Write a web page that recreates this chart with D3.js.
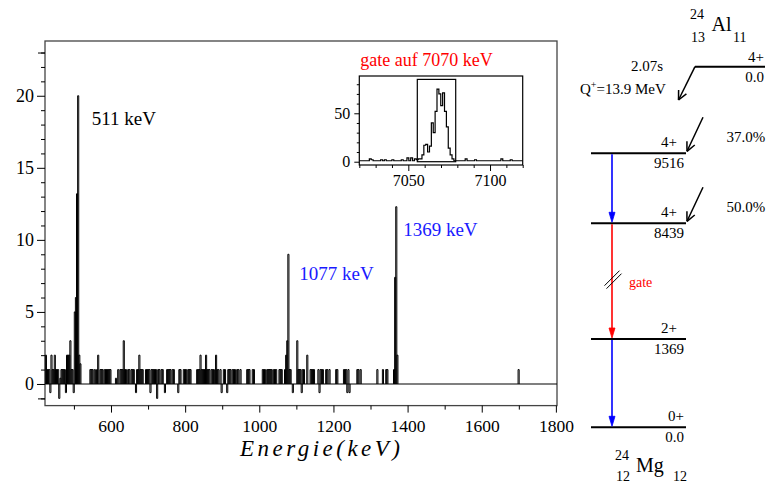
<!DOCTYPE html>
<html>
<head>
<meta charset="utf-8">
<script src="https://cdn.jsdelivr.net/npm/d3@7"></script>
<style>
  body { margin: 0; background: #fff; }
  svg { display: block; font-family: "Liberation Serif", "Times New Roman", serif; }
</style>
</head>
<body>
<svg id="chart" width="768" height="483"></svg>
<script>
// ---------------------------------------------------------------
// Gamma spectrum gated on the 7070 keV transition (24Al -> 24Mg)
// ---------------------------------------------------------------

// main spectrum: [bin start energy (keV), counts], bins of 3 keV
const spectrumBinWidth = 3;
const spectrum = [
  [423,2],[426,1],[429,1],[432,1],[435,-0.6],[438,2],[441,1],[444,1],[447,2],[450,1],
  [453,1],[456,1],[459,-1],[462,0.4],[465,1],[468,1],[471,1],[474,1],[477,-0.6],[480,2],
  [483,2],[486,2],[489,3],[492,1],[495,1],[498,-0.6],[501,5],[504,6],[507,13.2],[510,20],
  [513,2],[516,1.4],
  [543,1],[546,1],[549,1],[555,1],[561,1],[564,2],[570,1],[573,1],[576,1],[582,1],
  [585,1],[588,1],[591,1],[594,1],[597,1],[612,0.4],[618,1],[624,1],[627,1],[630,1],
  [633,3],[636,1],[639,1],[645,1],[648,1],[654,1],[657,1],[660,1],[666,-0.6],[669,1],
  [672,1],[675,2],[678,1],[681,1],[684,1],[693,1],[696,1],[699,1],[702,1],[705,-0.6],
  [708,1],[711,1],[714,1],[717,1],[720,1],[723,-1],[726,1],[729,1],[735,1],[738,1],
  [744,-0.6],[750,1],[753,1],[756,1],[759,1],[765,1],[768,1],[780,-0.6],[783,1],[786,1],
  [795,1],[798,1],[801,1],[807,1],[810,1],[813,1],[831,1],[834,1],[837,1],[840,2],
  [843,1],[846,1],[849,1],[852,1],[855,2],[858,1],[861,1],[864,1],[870,1],[873,1],
  [876,1],[882,2],[885,1],[888,1],[894,1],[897,-0.6],[903,1],[906,1],[912,-0.6],[915,1],
  [918,1],[921,1],[927,1],[930,1],[933,1],[939,1],[942,1],[948,1],[966,1],[969,1],
  [972,1],[981,1],[984,1],[1008,1],[1011,1],[1014,1],[1020,1],[1023,1],[1026,1],[1029,1],
  [1032,1],[1038,1],[1041,1],[1044,1],[1053,1],[1056,1],[1059,1],[1068,1],[1071,2],[1074,3],
  [1077,9],[1080,1],[1083,1],[1089,-0.6],[1101,3],[1104,1],[1107,1],[1110,1],[1113,-0.6],[1116,1],
  [1119,1],[1128,2],[1137,1],[1140,1],[1143,1],[1146,1],[1158,1],[1161,-0.6],[1164,1],[1167,1],
  [1170,1],[1179,1],[1182,1],[1188,1],[1206,1],[1209,1],[1227,1],[1230,1],[1233,1],[1236,-0.6],
  [1239,1],[1242,-0.6],[1263,1],[1266,1],[1272,1],[1317,1],[1332,1],[1341,1],[1344,1],[1362,1],
  [1365,7.4],[1368,12.3],[1371,2],[1698,1]
];

const xMajorTicks = [600, 800, 1000, 1200, 1400, 1600, 1800];
const xMinorTicks = [500, 700, 900, 1100, 1300, 1500, 1700];
const yMajorTicks = [0, 5, 10, 15, 20];
const yMidTicks = [-1, 23];

// peak annotations
const peakEnergy = [511, 1077, 1369];
const peakText = ["511 keV", "1077 keV", "1369 keV"];
const peakColor = ["#000000", "#1a1aff", "#1a1aff"];

// gate spectrum (inset): counts per bin
const gateStart = 7019.25;
const gateBinWidth = 1.15;
const gateCounts = [
  1,1,1,1,1,1,3,2,1,1,1,1,2,1,2,1,1,1,2,1,1,1,1,2,1,1,4,1,4,1,3,2,
  3,3,7,17,18,10,16,40,30,52,75,70,58,71,52,36,14,7,3,
  1,1,1,1,1,1,3,1,1,1,1,2,1,1,1,1,1,1,1,1,1,1,1,1,1,3,1,1,1,1,2,1,1,1,1,1,1
];
const gateWindow = [7055.5, 7079];
const gateWindowHeight = 85;
const insetXTicks = [7050, 7100];
const insetYTicks = [0, 50];

// level scheme of 24Mg populated in the beta decay of 24Al
const levelEnergy = [9516, 8439, 1369, 0];
const levelText = ["9516", "8439", "1369", "0.0"];
const levelSpin = ["4+", "4+", "2+", "0+"];
const gammaFrom = [9516, 8439, 1369];
const gammaTo = [8439, 1369, 0];
const gammaColor = ["#0000ff", "#ff0000", "#0000ff"];
const feedLevel = [9516, 8439];
const feedBranch = ["37.0%", "50.0%"];

// ---------------------------------------------------------------
const svg = d3.select("#chart");

// ---------------- main spectrum ----------------
const frame = { left: 45, right: 557, top: 41, bottom: 405.6 };
const x = d3.scaleLinear().domain([422, 1803]).range([frame.left, frame.right]);
const y = d3.scaleLinear().domain([-1.5, 23.8]).range([frame.bottom, frame.top]);

svg.append("rect")
  .attr("x", frame.left).attr("y", frame.top)
  .attr("width", frame.right - frame.left).attr("height", frame.bottom - frame.top)
  .attr("fill", "none").attr("stroke", "#444").attr("stroke-width", 1.3);

// zero line
svg.append("line")
  .attr("x1", x(422)).attr("x2", x(1803))
  .attr("y1", y(0)).attr("y2", y(0))
  .attr("stroke", "#000").attr("stroke-width", 1.2);

// histogram bins
svg.append("g").selectAll("path").data(spectrum).join("path")
  .attr("d", d => {
    const x0 = x(d[0]), x1 = x(d[0] + spectrumBinWidth), y0 = y(0), yv = y(d[1]);
    return `M${x0},${y0}V${yv}H${x1}V${y0}`;
  })
  .attr("fill", "none").attr("stroke", "#000").attr("stroke-width", 1);

// axes
function styleAxis(g) {
  g.select(".domain").remove();
  g.selectAll("line").attr("stroke", "#000").attr("stroke-width", 1);
  g.selectAll("text").attr("fill", "#000")
    .style("font-family", "'Liberation Serif', 'Times New Roman', serif");
}
svg.append("g").attr("transform", `translate(0,${frame.bottom})`)
  .call(d3.axisBottom(x).tickValues(xMajorTicks).tickSize(7).tickPadding(7).tickFormat(d3.format("d")))
  .call(styleAxis).call(g => g.selectAll("text").attr("font-size", 17.5));
svg.append("g").attr("transform", `translate(0,${frame.bottom})`)
  .call(d3.axisBottom(x).tickValues(xMinorTicks).tickSize(4).tickFormat(""))
  .call(styleAxis);

svg.append("g").attr("transform", `translate(${frame.left},0)`)
  .call(d3.axisLeft(y).tickValues(yMajorTicks).tickSize(8).tickPadding(3).tickFormat(d3.format("d")))
  .call(styleAxis).call(g => g.selectAll("text").attr("font-size", 18));
svg.append("g").attr("transform", `translate(${frame.left},0)`)
  .call(d3.axisLeft(y).tickValues(d3.range(-1, 24).filter(v => v % 5 !== 0)).tickSize(4).tickFormat(""))
  .call(styleAxis);
svg.append("g").attr("transform", `translate(${frame.left},0)`)
  .call(d3.axisLeft(y).tickValues(yMidTicks).tickSize(7).tickFormat(""))
  .call(styleAxis);

// axis title
svg.append("text")
  .attr("x", 240).attr("y", 456)
  .attr("font-size", 23).attr("font-style", "italic")
  .attr("textLength", 160).attr("lengthAdjust", "spacing")
  .text("Energie(keV)");

// peak labels (offsets in keV / counts from the peak position)
const peakLabelOffset = [[37, 18], [31, 7.2], [19, 10.3]];
svg.append("g").selectAll("text").data(peakEnergy).join("text")
  .attr("x", (d, i) => x(d + peakLabelOffset[i][0]))
  .attr("y", (d, i) => y(peakLabelOffset[i][1]))
  .attr("font-size", 19)
  .attr("fill", (d, i) => peakColor[i])
  .text((d, i) => peakText[i]);

// ---------------- inset: gate spectrum ----------------
const inset = { left: 359.3, right: 522.7, top: 76, bottom: 165 };
const xi = d3.scaleLinear().domain([7020, 7120]).range([inset.left, inset.right]);
const yi = d3.scaleLinear().domain([-3.4, 88.5]).range([inset.bottom, inset.top]);

svg.append("defs").append("clipPath").attr("id", "insetClip")
  .append("rect")
  .attr("x", inset.left).attr("y", inset.top)
  .attr("width", inset.right - inset.left).attr("height", inset.bottom - inset.top);

svg.append("rect")
  .attr("x", inset.left).attr("y", inset.top)
  .attr("width", inset.right - inset.left).attr("height", inset.bottom - inset.top)
  .attr("fill", "none").attr("stroke", "#000").attr("stroke-width", 1.2);

const gatePoints = gateCounts.map((c, i) => [gateStart + i * gateBinWidth, c]);
gatePoints.push([gateStart + gateCounts.length * gateBinWidth, gateCounts[gateCounts.length - 1]]);
svg.append("path")
  .attr("clip-path", "url(#insetClip)")
  .attr("d", d3.line().x(d => xi(d[0])).y(d => yi(d[1])).curve(d3.curveStepAfter)(gatePoints))
  .attr("fill", "none").attr("stroke", "#000").attr("stroke-width", 1.2);

// gate window
svg.append("rect")
  .attr("x", xi(gateWindow[0])).attr("y", yi(gateWindowHeight))
  .attr("width", xi(gateWindow[1]) - xi(gateWindow[0]))
  .attr("height", yi(0) - yi(gateWindowHeight))
  .attr("fill", "none").attr("stroke", "#000").attr("stroke-width", 1.2);

svg.append("g").attr("transform", `translate(0,${inset.bottom})`)
  .call(d3.axisBottom(xi).tickValues(insetXTicks).tickSize(6).tickPadding(4).tickFormat(d3.format("d")))
  .call(styleAxis).call(g => g.selectAll("text").attr("font-size", 16));
svg.append("g").attr("transform", `translate(0,${inset.bottom})`)
  .call(d3.axisBottom(xi).tickValues([7020, 7030, 7040, 7060, 7070, 7080, 7090, 7110, 7120]).tickSize(3).tickFormat(""))
  .call(styleAxis);
svg.append("g").attr("transform", `translate(${inset.left},0)`)
  .call(d3.axisLeft(yi).tickValues(insetYTicks).tickSize(5).tickPadding(4).tickFormat(d3.format("d")))
  .call(styleAxis).call(g => g.selectAll("text").attr("font-size", 16));
svg.append("g").attr("transform", `translate(${inset.left},0)`)
  .call(d3.axisLeft(yi).tickValues([10, 20, 30, 40, 60, 70, 80]).tickSize(2.5).tickFormat(""))
  .call(styleAxis);

svg.append("text")
  .attr("x", inset.left + 1).attr("y", 66)
  .attr("font-size", 18).attr("fill", "#ff0000")
  .text("gate auf 7070 keV");

// ---------------- level scheme ----------------
const yl = d3.scaleLinear().domain([0, 1369, 8439, 9516]).range([427.3, 339, 223.3, 153.3]);
const lvl = { x1: 591, x2: 686, gammaX: 612 };
const scheme = svg.append("g");

function openHead(g, tip, from) {
  const dx = from[0] - tip[0], dy = from[1] - tip[1];
  const len = Math.hypot(dx, dy), ux = dx / len, uy = dy / len;
  const a = Math.PI / 7, L = 10;
  [a, -a].forEach(t => {
    const rx = ux * Math.cos(t) - uy * Math.sin(t);
    const ry = ux * Math.sin(t) + uy * Math.cos(t);
    g.append("line")
      .attr("x1", tip[0]).attr("y1", tip[1])
      .attr("x2", tip[0] + rx * L).attr("y2", tip[1] + ry * L)
      .attr("stroke", "#000").attr("stroke-width", 1.5);
  });
}
function betaArrow(from, tip) {
  scheme.append("line")
    .attr("x1", from[0]).attr("y1", from[1]).attr("x2", tip[0]).attr("y2", tip[1])
    .attr("stroke", "#000").attr("stroke-width", 1.5);
  openHead(scheme, tip, from);
}

// parent nucleus 24Al
scheme.append("line").attr("x1", 695).attr("x2", 765).attr("y1", 66.7).attr("y2", 66.7)
  .attr("stroke", "#000").attr("stroke-width", 2);
scheme.append("text").attr("x", 764).attr("y", 61.5).attr("text-anchor", "end").attr("font-size", 15).text("4+");
scheme.append("text").attr("x", 764).attr("y", 82).attr("text-anchor", "end").attr("font-size", 15).text("0.0");
betaArrow([695, 66.7], [678.5, 100]);
scheme.append("text").attr("x", 647).attr("y", 71).attr("text-anchor", "middle").attr("font-size", 15).text("2.07s");
const qText = scheme.append("text").attr("x", 580).attr("y", 93.5).attr("font-size", 15);
qText.append("tspan").text("Q");
qText.append("tspan").attr("font-size", 10).attr("dy", -6).text("+");
qText.append("tspan").attr("dy", 6).text("=13.9 MeV");

const al = scheme.append("g");
al.append("text").attr("x", 690).attr("y", 19).attr("font-size", 14).text("24");
al.append("text").attr("x", 711.5).attr("y", 31).attr("font-size", 20).text("Al");
al.append("text").attr("x", 691).attr("y", 41.5).attr("font-size", 14).text("13");
al.append("text").attr("x", 733).attr("y", 42).attr("font-size", 14).text("11");

// levels
levelEnergy.forEach((e, i) => {
  const yy = yl(e);
  scheme.append("line").attr("x1", lvl.x1).attr("x2", lvl.x2).attr("y1", yy).attr("y2", yy)
    .attr("stroke", "#000").attr("stroke-width", 2);
  scheme.append("text").attr("x", e === 0 ? lvl.x2 - 2 : lvl.x2 - 9).attr("y", yy - 6)
    .attr("text-anchor", "end").attr("font-size", 15).text(levelSpin[i]);
  scheme.append("text").attr("x", lvl.x2 - 2).attr("y", yy + 15)
    .attr("text-anchor", "end").attr("font-size", 15).text(levelText[i]);
});

// beta feeding
feedLevel.forEach((e, i) => {
  const yy = yl(e);
  betaArrow([lvl.x2 + 17, yy - 36], [lvl.x2 + 1, yy - 2]);
  scheme.append("text").attr("x", 726.5).attr("y", yy - 11).attr("font-size", 15).text(feedBranch[i]);
});

// gamma transitions
gammaFrom.forEach((e, i) => {
  const y0 = yl(e) + 1, y1 = yl(gammaTo[i]) - 1;
  const c = gammaColor[i];
  scheme.append("line").attr("x1", lvl.gammaX).attr("x2", lvl.gammaX)
    .attr("y1", y0).attr("y2", y1 - 8)
    .attr("stroke", c).attr("stroke-width", 1.6);
  scheme.append("path")
    .attr("d", `M${lvl.gammaX - 3},${y1 - 10}L${lvl.gammaX + 3},${y1 - 10}L${lvl.gammaX},${y1}Z`)
    .attr("fill", c).attr("stroke", c).attr("stroke-width", 0.8);
});

// break mark on the gate transition
const midY = (yl(8439) + yl(1369)) / 2 - 3;
[[-7.5, 7.5, 7.5, -7.5], [-5.5, 10.5, 9.5, -4.5]].forEach(s => {
  scheme.append("line")
    .attr("x1", lvl.gammaX + s[0]).attr("y1", midY + s[1])
    .attr("x2", lvl.gammaX + s[2]).attr("y2", midY + s[3])
    .attr("stroke", "#000").attr("stroke-width", 1);
});
scheme.append("text").attr("x", 629).attr("y", midY + 9).attr("font-size", 14)
  .attr("fill", "#ff0000").text("gate");

// daughter nucleus 24Mg
const mg = scheme.append("g");
mg.append("text").attr("x", 615).attr("y", 459.5).attr("font-size", 14).text("24");
mg.append("text").attr("x", 636).attr("y", 472).attr("font-size", 20).text("Mg");
mg.append("text").attr("x", 616).attr("y", 481).attr("font-size", 14).text("12");
mg.append("text").attr("x", 673).attr("y", 481).attr("font-size", 14).text("12");
</script>
</body>
</html>
